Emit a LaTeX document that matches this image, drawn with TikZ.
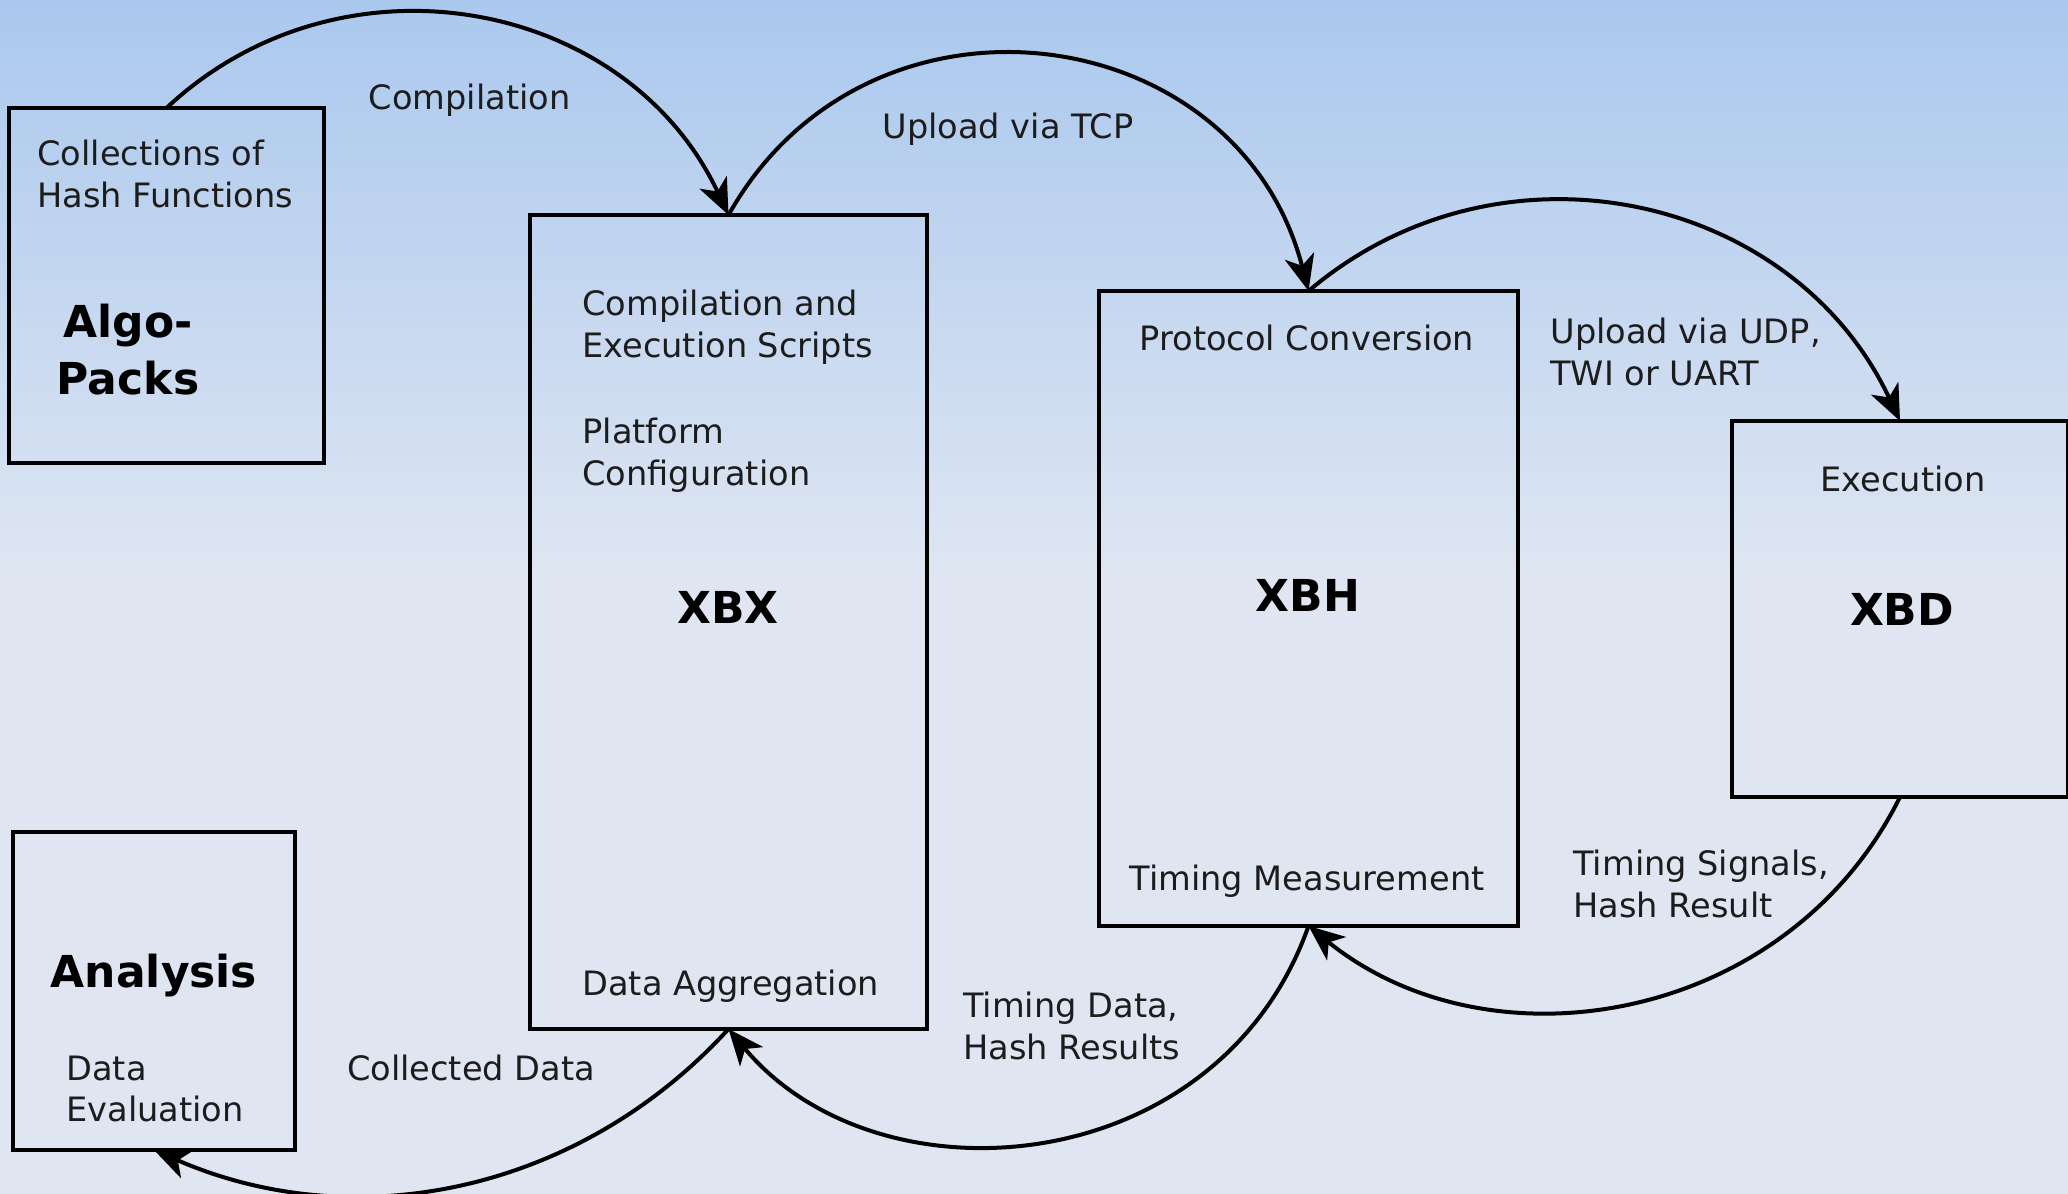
\documentclass[tikz,border=0pt]{standalone}
\usepackage{fontspec}
\setmainfont{DejaVu Sans}
\usetikzlibrary{arrows.meta}
\definecolor{bgtop}{HTML}{AAC8EE}
\definecolor{bgbot}{HTML}{DFE6F2}
\definecolor{ink}{HTML}{1C1C1C}
\begin{document}
\begin{tikzpicture}[x=0.5pt,y=-0.5pt,
  box/.style={draw=black, line width=2.4pt, rectangle, outer sep=0pt, inner sep=0pt},
  lbl/.style={text=ink, font=\fontsize{16.8}{20.8}\selectfont, inner sep=0pt, align=left},
  title/.style={text=black, font=\fontsize{22}{28.5}\selectfont\bfseries, inner sep=0pt, align=center},
  flow/.style={draw=black, line width=2pt, -{Stealth[length=18pt,width=15pt,inset=5pt]}}]

% background: blue gradient fading into a pale tone
\useasboundingbox (0,0) rectangle (2068,1194);
\fill[bgbot] (0,0) rectangle (2068,1194);
\shade[top color=bgtop, bottom color=bgbot] (0,0) rectangle (2068,580);

% boxes
\node[box, minimum width=157.5pt, minimum height=177.5pt] (algo) at (166.5,285.5) {};
\node[box, minimum width=198.5pt, minimum height=407pt]   (xbx)  at (728.5,622) {};
\node[box, minimum width=209.5pt, minimum height=317.5pt] (xbh)  at (1308.5,608.5) {};
\node[box, minimum width=168pt,   minimum height=188pt]   (xbd)  at (1900,609) {};
\node[box, minimum width=141pt,   minimum height=159pt]   (ana)  at (154,991) {};

% box contents
\node[lbl, anchor=west] (algosub) at (37,174) {Collections of\\Hash Functions};
\node[title] (algotitle) at (128,350) {Algo-\\Packs};

\node[lbl, anchor=west] (xbxa) at (582,327) {Compilation and\\Execution Scripts};
\node[lbl, anchor=west] (xbxb) at (582,455) {Platform\\Configuration};
\node[title] (xbxtitle) at (728,607) {XBX};
\node[lbl, anchor=west] (xbxc) at (582,986) {Data Aggregation};

\node[lbl] (xbha) at (1307,338) {Protocol Conversion};
\node[title] (xbhtitle) at (1308,595) {XBH};
\node[lbl] (xbhb) at (1307,881) {Timing Measurement};

\node[lbl] (xbda) at (1903,479) {Execution};
\node[title] (xbdtitle) at (1902,609) {XBD};

\node[title] (anatitle) at (154,976) {Analysis};
\node[lbl, anchor=west] (anasub) at (66,1089) {Data\\Evaluation};

% flows
\draw[flow] (algo.north) .. controls +(175,-164) and +(-102,-217) .. (xbx.north);
\draw[flow] (xbx.north) .. controls +(139,-248) and +(-71,-275) .. (xbh.north);
\draw[flow] (xbh.north) .. controls +(192,-163) and +(-107,-228) .. (xbd.north);
\draw[flow] (xbd.south) .. controls +(-112,226) and +(183,148) .. (xbh.south);
\draw[flow] (xbh.south) .. controls +(-90,255) and +(150,180) .. (xbx.south);
\draw[flow] (xbx.south) .. controls +(-149,163) and +(202,88) .. (ana.south);

% flow labels
\node[lbl] (lcomp) at (469.5,100) {Compilation};
\node[lbl] (ltcp) at (1008,129) {Upload via TCP};
\node[lbl, anchor=west] (ludp) at (1550,352) {Upload via UDP,\\TWI or UART};
\node[lbl, anchor=west] (lsig) at (1573,884) {Timing Signals,\\Hash Result};
\node[lbl, anchor=west] (ldata) at (963,1026) {Timing Data,\\Hash Results};
\node[lbl] (lcoll) at (471,1068) {Collected Data};
\end{tikzpicture}
\end{document}
